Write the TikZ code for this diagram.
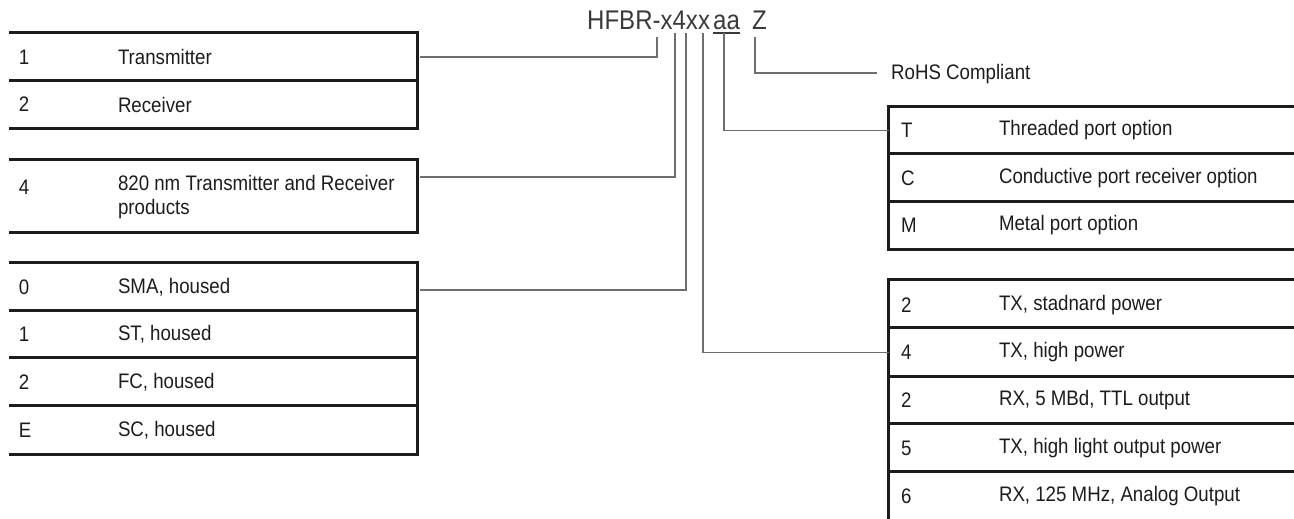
\documentclass[tikz,border=0pt]{standalone}
\usepackage{fontspec}
\setmainfont[FakeStretch=0.89]{Liberation Sans}
\definecolor{ink}{HTML}{1E1B1C}
\definecolor{connc}{HTML}{6E6E6E}
\definecolor{ttl}{HTML}{3A3A3A}
\begin{document}
\begin{tikzpicture}[x=1pt,y=-1pt,
  lrow/.style={inner sep=0pt, minimum width=408pt, minimum height=#1},
  rrow/.style={inner sep=0pt, minimum width=405pt, minimum height=#1},
  rule/.style={line width=3pt, draw=ink},
  connector/.style={line width=1.6pt, draw=connc},
  key/.style={anchor=west, inner sep=0pt, font=\fontsize{21}{24}\selectfont, text=ink},
  titletext/.style={anchor=base west, inner sep=0pt, font=\fontsize{27}{30}\selectfont, text=ttl}]
\useasboundingbox (0,0) rectangle (1294,519);

% title
\node[titletext] (title) at (587,30) {HFBR-x4xx};
\node[titletext] (titleaa) at (713,30) {aa};
\node[titletext] (titlez) at (752,30) {Z};
\draw[line width=1.5pt, draw=ttl] ([yshift=-3pt]titleaa.base west) -- ([yshift=-3pt]titleaa.base east);
\coordinate (cT) at (657,37);
\coordinate (cF) at (675,33);
\coordinate (cXa) at (686,33);
\coordinate (cXb) at (703,33);
\coordinate (cA) at (724,33);
\coordinate (cZ) at (755,37);

% left rows
\node[lrow=48pt] (L1a) at (213,57) {};
\node[lrow=47pt] (L1b) at (213,104.5) {};
\node[lrow=72pt] (L2) at (213,196) {};
\node[lrow=48pt] (L3a) at (213,287) {};
\node[lrow=47pt] (L3b) at (213,334.5) {};
\node[lrow=48pt] (L3c) at (213,382) {};
\node[lrow=48pt] (L3d) at (213,430) {};

\draw[rule] (L1a.north west) -- (L1a.north east) -- (L1b.south east) -- (L1b.south west);
\draw[rule] (L1b.north west) -- (L1b.north east);
\draw[rule] (L2.north west) -- (L2.north east) -- (L2.south east) -- (L2.south west);
\draw[rule] (L3a.north west) -- (L3a.north east) -- (L3d.south east) -- (L3d.south west);
\draw[rule] (L3b.north west) -- (L3b.north east);
\draw[rule] (L3c.north west) -- (L3c.north east);
\draw[rule] (L3d.north west) -- (L3d.north east);

\node[key] at ([xshift=10pt]L1a.west) {1};
\node[key] at ([xshift=109pt]L1a.west) {Transmitter};
\node[key] at ([xshift=10pt]L1b.west) {2};
\node[key] at ([xshift=109pt]L1b.west) {Receiver};
\node[key] at ([xshift=10pt,yshift=9pt]L2.west) {4};
\node[key, align=left] at ([xshift=109pt,yshift=-1pt]L2.west) {820 nm Transmitter and Receiver\\products};
\node[key] at ([xshift=10pt]L3a.west) {0};
\node[key] at ([xshift=109pt]L3a.west) {SMA, housed};
\node[key] at ([xshift=10pt]L3b.west) {1};
\node[key] at ([xshift=109pt]L3b.west) {ST, housed};
\node[key] at ([xshift=10pt]L3c.west) {2};
\node[key] at ([xshift=109pt]L3c.west) {FC, housed};
\node[key] at ([xshift=10pt]L3d.west) {E};
\node[key] at ([xshift=109pt]L3d.west) {SC, housed};

% right rows
\node[rrow=47pt] (RA1) at (1091.5,130.5) {};
\node[rrow=48pt] (RA2) at (1091.5,178) {};
\node[rrow=47pt] (RA3) at (1091.5,225.5) {};
\node[rrow=48pt] (RB1) at (1091.5,304) {};
\node[rrow=49pt] (RB2) at (1091.5,352.5) {};
\node[rrow=47pt] (RB3) at (1091.5,400.5) {};
\node[rrow=48pt] (RB4) at (1091.5,448) {};
\node[rrow=48pt] (RB5) at (1091.5,496) {};

\draw[rule] (RA1.north east) -- (RA1.north west) -- (RA3.south west) -- (RA3.south east);
\draw[rule] (RA2.north west) -- (RA2.north east);
\draw[rule] (RA3.north west) -- (RA3.north east);
\draw[rule] (RB1.north east) -- (RB1.north west) -- (RB5.south west);
\draw[rule] (RB2.north west) -- (RB2.north east);
\draw[rule] (RB3.north west) -- (RB3.north east);
\draw[rule] (RB4.north west) -- (RB4.north east);
\draw[rule] (RB5.north west) -- (RB5.north east);

\node[key] at ([xshift=12pt]RA1.west) {T};
\node[key] at ([xshift=110pt]RA1.west) {Threaded port option};
\node[key] at ([xshift=12pt]RA2.west) {C};
\node[key] at ([xshift=110pt]RA2.west) {Conductive port receiver option};
\node[key] at ([xshift=12pt]RA3.west) {M};
\node[key] at ([xshift=110pt]RA3.west) {Metal port option};
\node[key] at ([xshift=12pt,yshift=-1pt]RB1.west) {2};
\node[key] at ([xshift=110pt,yshift=-1pt]RB1.west) {TX, stadnard power};
\node[key] at ([xshift=12pt]RB2.west) {4};
\node[key] at ([xshift=110pt]RB2.west) {TX, high power};
\node[key] at ([xshift=12pt]RB3.west) {2};
\node[key] at ([xshift=110pt]RB3.west) {RX, 5 MBd, TTL output};
\node[key] at ([xshift=12pt]RB4.west) {5};
\node[key] at ([xshift=110pt]RB4.west) {TX, high light output power};
\node[key] at ([xshift=12pt]RB5.west) {6};
\node[key] at ([xshift=110pt]RB5.west) {RX, 125 MHz, Analog Output};

\node[key] (rohs) at (891,74) {RoHS Compliant};

% connectors
\draw[connector] ([xshift=3pt]L1a.east) -| (cT);
\draw[connector] ([xshift=3pt,yshift=19pt]L2.east) -| (cF);
\draw[connector] ([xshift=3pt,yshift=-3pt]L3a.east) -| (cXa);
\draw[connector] (RB2.west) -| (cXb);
\draw[connector] (RA1.west) -| (cA);
\draw[connector] ([xshift=-14pt,yshift=1pt]rohs.west) -| (cZ);
\end{tikzpicture}
\end{document}
